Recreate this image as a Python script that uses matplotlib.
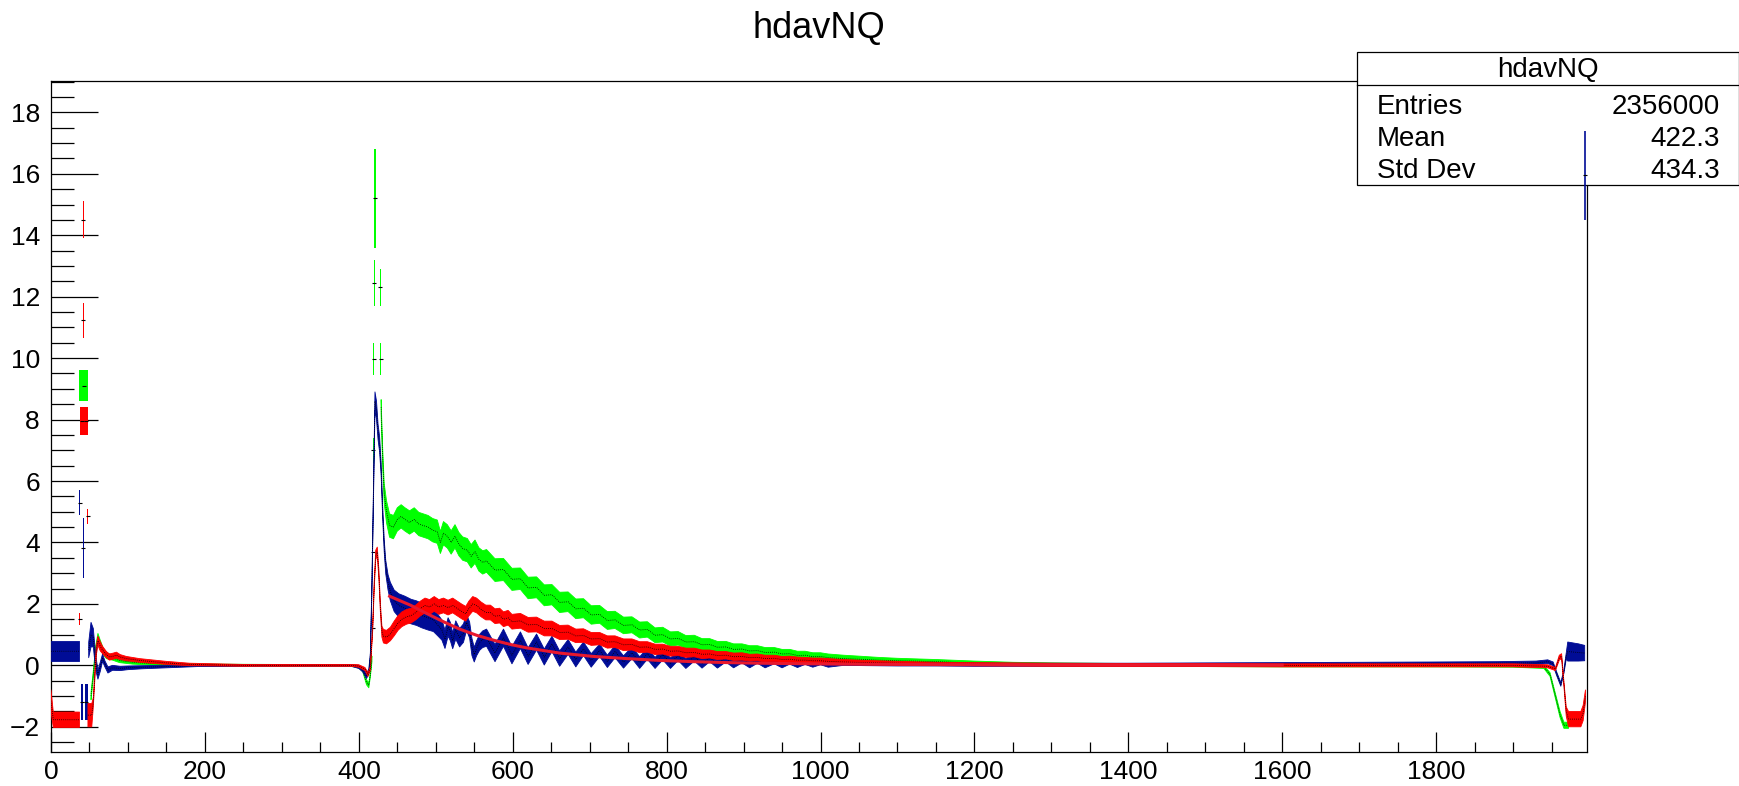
import numpy as np
import matplotlib
matplotlib.use("Agg")
import matplotlib.pyplot as plt
from matplotlib.patches import Rectangle
from matplotlib.ticker import MultipleLocator

plt.rcParams['font.family'] = ['Liberation Sans', 'DejaVu Sans']

nan = np.nan

# (bin centre, content, error); nan rows split the band
blue_bins = [
    (0, 0.46, 0.32), (37, 0.46, 0.32), (nan, nan, nan),
    (49, 0.5, 0.25), (52, 1.0, 0.4), (55, 0.9, 0.3), (58, 0.1, 0.25), (61, -0.3, 0.15),
    (64, -0.05, 0.15), (67, 0.25, 0.12), (70, 0.05, 0.1), (74, -0.15, 0.1), (80, -0.08, 0.08),
    (90, -0.1, 0.07), (100, -0.08, 0.06), (120, -0.06, 0.05), (150, -0.04, 0.04),
    (190, -0.01, 0.03), (250, 0.0, 0.03), (300, 0.0, 0.03), (350, 0.0, 0.03), (390, 0.0, 0.03),
    (400, -0.05, 0.05), (405, -0.15, 0.06), (410, -0.35, 0.08), (413, -0.2, 0.08),
    (415, 0.3, 0.1), (417, 2.5, 0.15), (419, 5.5, 0.2), (421, 8.6, 0.3), (423, 8.3, 0.3),
    (425, 7.6, 0.25), (427, 7.2, 0.25), (429, 6.4, 0.2), (431, 5.0, 0.2), (433, 3.9, 0.2),
    (435, 3.2, 0.22), (438, 2.7, 0.25), (441, 2.4, 0.3), (446, 2.1, 0.35), (452, 1.95, 0.38),
    (460, 1.85, 0.4), (468, 1.75, 0.4), (475, 1.7, 0.4), (482, 1.62, 0.4), (490, 1.55, 0.4),
    (497, 1.48, 0.38), (503, 1.3, 0.35), (508, 1.15, 0.33), (512, 0.85, 0.3), (516, 1.25, 0.3),
    (519, 1.1, 0.3), (522, 0.8, 0.26), (526, 1.15, 0.3), (531, 0.9, 0.3), (536, 1.05, 0.3),
    (540, 1.4, 0.26), (544, 1.15, 0.26), (547, 0.6, 0.28), (550, 0.35, 0.24), (553, 0.55, 0.24),
    (557, 0.75, 0.26), (561, 0.85, 0.27),
    (566, 0.9, 0.28), (577, 0.4, 0.28), (588, 0.9, 0.28), (599, 0.33, 0.28), (610, 0.82, 0.27),
    (620, 0.3, 0.27), (631, 0.76, 0.26), (641, 0.27, 0.26), (651, 0.7, 0.25), (661, 0.22, 0.25),
    (672, 0.6, 0.24), (682, 0.19, 0.24), (692, 0.54, 0.22), (702, 0.16, 0.22), (713, 0.49, 0.2),
    (723, 0.13, 0.2), (733, 0.45, 0.2), (744, 0.11, 0.2), (755, 0.41, 0.19), (765, 0.09, 0.19),
    (775, 0.38, 0.18), (785, 0.08, 0.18), (795, 0.35, 0.17), (805, 0.07, 0.17), (815, 0.32, 0.16),
    (825, 0.06, 0.16), (836, 0.29, 0.15), (846, 0.06, 0.15), (856, 0.26, 0.14), (866, 0.05, 0.14),
    (877, 0.24, 0.13), (887, 0.05, 0.13), (898, 0.21, 0.13), (908, 0.05, 0.13), (918, 0.19, 0.12),
    (928, 0.04, 0.12), (940, 0.17, 0.12), (950, 0.04, 0.12), (960, 0.15, 0.11), (970, 0.04, 0.11),
    (980, 0.13, 0.1), (990, 0.04, 0.1), (1000, 0.12, 0.1), (1010, 0.04, 0.1),
    (1030, 0.08, 0.08), (1060, 0.06, 0.07), (1100, 0.04, 0.06), (1150, 0.03, 0.05),
    (1200, 0.02, 0.05), (1300, 0.02, 0.05), (1400, 0.02, 0.05), (1500, 0.03, 0.05),
    (1600, 0.04, 0.05), (1700, 0.05, 0.05), (1800, 0.06, 0.05), (1880, 0.07, 0.05),
    (1930, 0.08, 0.06), (1945, 0.12, 0.06), (1952, 0.05, 0.06), (1957, -0.3, 0.06),
    (1962, -0.62, 0.06), (1966, -0.2, 0.06), (1969, 0.3, 0.1), (1971, 0.45, 0.31),
    (1985, 0.42, 0.28), (1993, 0.4, 0.25),
]

red_bins = [
    (0, -1.15, 0.35), (3, -1.77, 0.25), (37, -1.77, 0.25), (nan, nan, nan),
    (48, -1.62, 0.38), (53, -1.62, 0.38), (55, -1.2, 0.15), (57, -0.3, 0.15), (59, 0.5, 0.15),
    (61, 0.8, 0.15), (64, 0.62, 0.15), (67, 0.5, 0.12), (72, 0.35, 0.1), (76, 0.27, 0.1),
    (81, 0.3, 0.1), (85, 0.33, 0.1), (90, 0.27, 0.08), (98, 0.22, 0.07), (115, 0.16, 0.06),
    (150, 0.08, 0.05), (180, 0.03, 0.04), (250, 0.0, 0.03), (390, 0.0, 0.03), (400, -0.02, 0.04),
    (408, -0.12, 0.05), (412, -0.3, 0.06), (415, -0.1, 0.06), (418, 1.2, 0.1), (420, 2.6, 0.12),
    (422, 3.6, 0.15), (424, 3.7, 0.15), (426, 3.0, 0.15), (428, 1.9, 0.15), (430, 1.1, 0.18),
    (432, 0.95, 0.22), (436, 0.92, 0.22), (441, 1.02, 0.22), (446, 1.2, 0.24), (451, 1.38, 0.24),
    (456, 1.5, 0.24), (462, 1.58, 0.24), (468, 1.62, 0.24), (474, 1.72, 0.24), (480, 1.85, 0.24),
    (486, 1.95, 0.24), (492, 1.9, 0.24), (498, 2.0, 0.24), (504, 1.9, 0.24), (510, 1.95, 0.24),
    (516, 1.88, 0.24), (522, 1.95, 0.24), (528, 1.85, 0.24), (534, 1.75, 0.24), (539, 1.68, 0.24),
    (543, 1.85, 0.24), (548, 2.0, 0.24), (553, 1.95, 0.24), (559, 1.82, 0.24), (565, 1.72, 0.24),
    (571, 1.72, 0.24), (577, 1.6, 0.24), (583, 1.62, 0.24), (588, 1.5, 0.24), (594, 1.55, 0.24),
    (599, 1.42, 0.24), (610, 1.45, 0.24), (620, 1.32, 0.24), (631, 1.33, 0.24), (641, 1.2, 0.24),
    (651, 1.2, 0.24), (661, 1.07, 0.23), (672, 1.08, 0.23), (682, 0.96, 0.22), (692, 0.97, 0.22),
    (702, 0.86, 0.21), (713, 0.87, 0.2), (723, 0.76, 0.2), (733, 0.77, 0.19), (744, 0.67, 0.19),
    (755, 0.68, 0.18), (765, 0.59, 0.18), (775, 0.6, 0.17), (785, 0.52, 0.17), (795, 0.53, 0.16),
    (805, 0.46, 0.16), (815, 0.47, 0.15), (825, 0.41, 0.15), (836, 0.42, 0.14), (846, 0.36, 0.14),
    (856, 0.37, 0.13), (866, 0.32, 0.13), (877, 0.33, 0.12), (887, 0.28, 0.12), (898, 0.29, 0.12),
    (908, 0.25, 0.11), (918, 0.26, 0.11), (928, 0.22, 0.11), (940, 0.23, 0.1), (950, 0.19, 0.1),
    (960, 0.2, 0.1), (970, 0.17, 0.1), (980, 0.17, 0.09), (990, 0.15, 0.09), (1000, 0.15, 0.09),
    (1010, 0.13, 0.09), (1030, 0.11, 0.08), (1060, 0.09, 0.07), (1100, 0.07, 0.06),
    (1150, 0.05, 0.05), (1200, 0.04, 0.05), (1300, 0.02, 0.05), (1400, 0.01, 0.05),
    (1500, 0.01, 0.05), (1600, 0.0, 0.05), (1700, 0.0, 0.05), (1800, 0.0, 0.05), (1900, 0.0, 0.05),
    (1945, -0.03, 0.05), (1955, -0.12, 0.05), (1960, 0.25, 0.08), (1963, 0.3, 0.08),
    (1966, -0.6, 0.08), (1969, -1.5, 0.15), (1972, -1.75, 0.25), (1988, -1.75, 0.25),
    (1991, -1.55, 0.25), (1994, -1.0, 0.2),
]

green_bins = [
    (52, -1.0, 0.12), (55, -0.3, 0.12), (58, 0.5, 0.12), (61, 0.92, 0.12), (64, 0.7, 0.12),
    (68, 0.45, 0.1), (72, 0.32, 0.1), (80, 0.25, 0.08), (89, 0.16, 0.07), (106, 0.1, 0.06),
    (130, 0.06, 0.05), (160, 0.03, 0.04), (200, 0.01, 0.03), (300, 0.0, 0.03), (390, 0.0, 0.03),
    (400, -0.05, 0.04), (405, -0.15, 0.05), (410, -0.55, 0.08), (413, -0.65, 0.08),
    (415, -0.3, 0.08), (417, 0.2, 0.1), (nan, nan, nan),
    (429, 8.4, 0.25), (431, 6.8, 0.28), (433, 5.6, 0.32), (436, 5.0, 0.36), (440, 4.55, 0.38),
    (445, 4.5, 0.38), (450, 4.75, 0.38), (455, 4.85, 0.38), (460, 4.75, 0.38), (466, 4.65, 0.38),
    (472, 4.75, 0.38), (478, 4.6, 0.38), (484, 4.55, 0.38), (490, 4.5, 0.38), (496, 4.4, 0.38),
    (502, 4.35, 0.38), (506, 4.0, 0.36), (510, 4.3, 0.38), (515, 4.2, 0.38), (520, 4.0, 0.38),
    (525, 4.2, 0.38), (530, 3.95, 0.38), (535, 3.8, 0.38), (541, 3.75, 0.38), (546, 3.55, 0.38),
    (551, 3.7, 0.38), (556, 3.45, 0.38), (561, 3.35, 0.38), (566, 3.4, 0.37),
    (577, 3.1, 0.37), (588, 3.12, 0.36), (599, 2.8, 0.36), (610, 2.82, 0.35), (620, 2.52, 0.35),
    (631, 2.54, 0.34), (641, 2.28, 0.34), (651, 2.3, 0.33), (661, 2.05, 0.33), (672, 2.07, 0.32),
    (682, 1.84, 0.32), (692, 1.86, 0.31), (702, 1.64, 0.3), (713, 1.66, 0.29), (723, 1.46, 0.29),
    (733, 1.48, 0.28), (744, 1.3, 0.27), (755, 1.32, 0.26), (765, 1.15, 0.26), (775, 1.17, 0.25),
    (785, 0.98, 0.24), (795, 1.0, 0.24), (805, 0.86, 0.23), (815, 0.88, 0.22), (825, 0.76, 0.21),
    (836, 0.77, 0.21), (846, 0.67, 0.2), (856, 0.68, 0.19), (866, 0.59, 0.19), (877, 0.6, 0.18),
    (887, 0.52, 0.18), (898, 0.53, 0.17), (908, 0.47, 0.17), (918, 0.48, 0.16), (928, 0.42, 0.16),
    (940, 0.43, 0.15), (950, 0.37, 0.15), (960, 0.38, 0.14), (970, 0.32, 0.14), (980, 0.33, 0.13),
    (990, 0.28, 0.13), (1000, 0.29, 0.12), (1010, 0.25, 0.12), (1030, 0.22, 0.11), (1050, 0.2, 0.1),
    (1075, 0.17, 0.09), (1100, 0.15, 0.08), (1150, 0.12, 0.07), (1200, 0.08, 0.06),
    (1250, 0.05, 0.05), (1300, 0.03, 0.05), (1400, 0.01, 0.05), (1500, 0.01, 0.05),
    (1600, 0.0, 0.05), (1700, 0.0, 0.05), (1800, 0.0, 0.05), (1900, -0.01, 0.05),
    (1940, -0.05, 0.05), (1948, -0.3, 0.06), (1955, -1.0, 0.08), (1961, -1.6, 0.1),
    (1966, -1.95, 0.1), (1972, -1.95, 0.1),
]

# isolated (low statistics) bins: centre, width, low edge, high edge
blue_blocks = [(40.5, 3, -1.78, -0.6), (46, 4, -1.78, -0.6), (37.5, 1.2, 4.9, 5.7),
               (42, 1.2, 2.85, 4.8), (1993, 1.4, 14.5, 17.4)]
red_blocks = [(40.25, 4.5, 7.5, 8.4), (45.75, 4.5, 7.5, 8.4), (42, 1.2, 13.9, 15.1),
              (42, 1.2, 10.65, 11.8), (37.5, 1.2, 1.3, 1.7), (48, 1.2, 4.6, 5.1)]
green_blocks = [(42.5, 11, 8.6, 9.6), (421.5, 2.5, 13.6, 16.8), (420, 1.2, 11.7, 13.2),
                (428, 1.2, 11.7, 12.9), (419.5, 1.2, 9.45, 10.5), (428.5, 1.2, 9.45, 10.5),
                (418.5, 1.2, 6.6, 7.4), (418, 1.2, 3.5, 3.9), (418, 1.2, 0.9, 1.5)]

# fitted function drawn over the blue histogram
fit_x = [440, 467, 488, 510, 531, 553, 575, 597, 618, 661, 705, 748, 791, 835, 878, 921,
         1025, 1200, 1400, 1600]
fit_y = [2.25, 1.96, 1.69, 1.42, 1.18, 0.98, 0.82, 0.68, 0.57, 0.40, 0.29, 0.22, 0.16, 0.12,
         0.09, 0.07, 0.04, 0.02, 0.01, 0.01]

stats_rows = [("Entries", "2356000"), ("Mean", "422.3"), ("Std Dev", "434.3")]

BLUE = '#000c96'
RED = '#ff0000'
GREEN = '#00ff00'

W, H = 1740, 786
fig = plt.figure(figsize=(W / 100, H / 100), dpi=100)
ax = fig.add_axes([51 / W, 1 - 752 / H, (1587 - 51) / W, (752 - 81) / H])


def draw_hist(rows, blocks, color, z):
    x, y, e = np.array(rows, dtype=float).T
    ax.fill_between(x, y - e, y + e, color=color, lw=0.6, edgecolor=color, zorder=z)
    ax.plot(x, y, color='black', lw=0.6, ls=(0, (1, 1.5)), zorder=z + 0.1)
    bx, bw, lo, hi = np.array(blocks, dtype=float).T
    ax.bar(bx, hi - lo, width=bw, bottom=lo, color=color, lw=0, zorder=z)
    ax.plot(bx, (lo + hi) / 2, ls='none', marker='_', ms=3, mew=0.8, color='black', zorder=z + 0.1)


draw_hist(green_bins, green_blocks, GREEN, 2)
draw_hist(blue_bins, blue_blocks[:-1], BLUE, 3)
draw_hist(red_bins, red_blocks, RED, 4)
ax.plot(fit_x, fit_y, color='#e8182e', lw=2.2, zorder=5)

ax.set_xlim(0, 1996)
ax.set_ylim(-2.82, 19.02)
ax.xaxis.set_major_locator(MultipleLocator(200))
ax.xaxis.set_minor_locator(MultipleLocator(50))
ax.yaxis.set_major_locator(MultipleLocator(2))
ax.yaxis.set_minor_locator(MultipleLocator(0.5))
ax.tick_params(which='both', direction='in', top=False, right=False, width=0.9, labelsize=19)
ax.tick_params(axis='y', which='major', length=34, pad=8)
ax.tick_params(axis='y', which='minor', length=16.5)
ax.tick_params(axis='x', which='major', length=14.5, pad=6)
ax.tick_params(axis='x', which='minor', length=7.2)
for sp in ax.spines.values():
    sp.set_linewidth(0.9)

# stats box (drawn before the last histogram bin so that bin sits on top)
ax.add_patch(Rectangle((1357 / W, 1 - 185 / H), (1739 - 1357) / W, 133 / H,
                       transform=fig.transFigure, facecolor='white', edgecolor='black',
                       lw=0.9, zorder=10, clip_on=False))
ax.plot([1357 / W, 1739 / W], [1 - 85 / H, 1 - 85 / H], color='black', lw=0.9,
        transform=fig.transFigure, clip_on=False, zorder=10)
bx, bw, lo, hi = blue_blocks[-1]
ax.vlines(bx, lo, hi, color=BLUE, lw=1.2, zorder=11, clip_on=False)
ax.plot([bx], [(lo + hi) / 2], ls='none', marker='_', ms=3, mew=0.8, color='black',
        zorder=11, clip_on=False)

fig.text(1548 / W, 1 - 77 / H, "hdavNQ", ha='center', va='baseline', fontsize=20)
for i, (label, value) in enumerate(stats_rows):
    yb = 1 - (113.5 + 32.5 * i) / H
    fig.text(1377 / W, yb, label, ha='left', va='baseline', fontsize=20)
    fig.text(1720 / W, yb, value, ha='right', va='baseline', fontsize=20)

fig.text(819 / W, 1 - 38 / H, "hdavNQ", ha='center', va='baseline', fontsize=26)

fig.savefig("out.png", dpi=100, facecolor='white')
